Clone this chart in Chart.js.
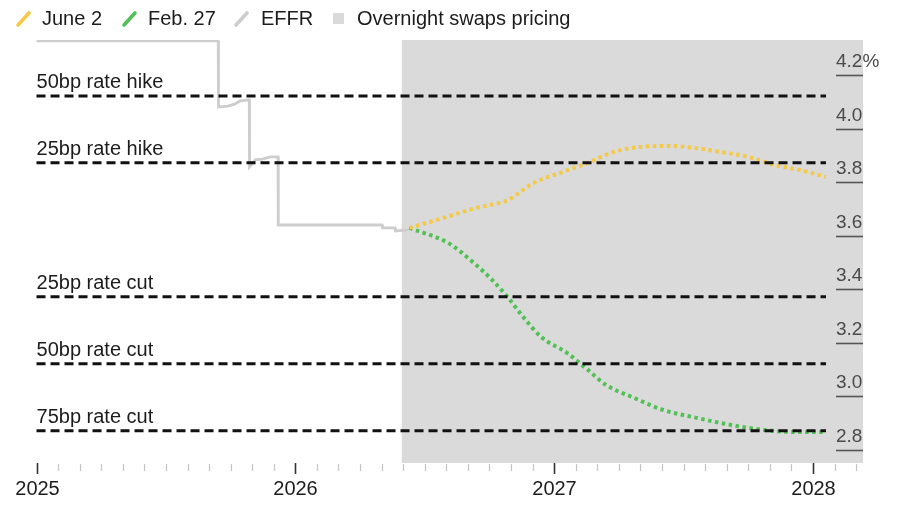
<!DOCTYPE html>
<html>
<head>
<meta charset="utf-8">
<script src="https://cdn.jsdelivr.net/npm/chart.js@4/dist/chart.umd.min.js"></script>
<style>
  html, body { margin: 0; padding: 0; background: #ffffff; }
  #wrap { width: 900px; height: 510px; position: relative; }
</style>
</head>
<body>
<div id="wrap"><canvas id="c" width="900" height="510"></canvas></div>
<script>
// ---------- DATA ----------
const effrDates  = [2025.0, 2025.702, 2025.703, 2025.74, 2025.767, 2025.787, 2025.818, 2025.822, 2025.823, 2025.845, 2025.872, 2025.903, 2025.933, 2025.934, 2026.335, 2026.337, 2026.385, 2026.387, 2026.436];
const effrValues = [4.327, 4.327, 4.081, 4.084, 4.092, 4.103, 4.107, 4.107, 3.857, 3.883, 3.886, 3.894, 3.894, 3.640, 3.640, 3.629, 3.629, 3.618, 3.622];

const june2Dates  = [2026.44, 2026.57, 2026.70, 2026.82, 2026.92, 2027.02, 2027.13, 2027.23, 2027.33, 2027.44, 2027.54, 2027.64, 2027.75, 2027.85, 2027.95, 2028.05];
const june2Values = [3.629, 3.666, 3.704, 3.733, 3.797, 3.834, 3.872, 3.913, 3.931, 3.935, 3.928, 3.913, 3.894, 3.864, 3.845, 3.819];

const feb27Dates  = [2026.44, 2026.59, 2026.69, 2026.76, 2026.82, 2026.88, 2026.95, 2027.05, 2027.13, 2027.20, 2027.31, 2027.42, 2027.55, 2027.68, 2027.81, 2027.94, 2028.05];
const feb27Values = [3.629, 3.573, 3.498, 3.435, 3.371, 3.297, 3.222, 3.162, 3.099, 3.043, 2.994, 2.950, 2.920, 2.894, 2.875, 2.867, 2.867];

const refLabels = ['50bp rate hike', '25bp rate hike', '25bp rate cut', '50bp rate cut', '75bp rate cut'];
const refValues = [4.122, 3.872, 3.372, 3.122, 2.872];
const refRange  = [2025.0, 2028.05];

const forecastStart = 2026.411;

const yTickValues = [4.2, 4.0, 3.8, 3.6, 3.4, 3.2, 3.0, 2.8];
const yTickLabels = ['4.2%', '4.0', '3.8', '3.6', '3.4', '3.2', '3.0', '2.8'];
const xTickValues = [2025, 2026, 2027, 2028];
const xTickLabels = ['2025', '2026', '2027', '2028'];

const legendLabels = ['June 2', 'Feb. 27', 'EFFR', 'Overnight swaps pricing'];

// ---------- STYLE ----------
const COL_JUNE = '#f4c945';
const COL_FEB  = '#52c155';
const COL_EFFR = '#cdcdcd';
const COL_SHADE = '#dadada';
const FONT = '"Liberation Sans", Arial, Helvetica, sans-serif';

const zip = (xs, ys) => xs.map((x, i) => ({ x: x, y: ys[i] }));

const datasets = [];
refValues.forEach((v) => {
  datasets.push({
    label: 'ref',
    data: zip(refRange, [v, v]),
    borderColor: '#111111',
    borderWidth: 3,
    borderDash: [9, 5],
    pointRadius: 0,
    order: 0
  });
});
datasets.push({
  label: 'EFFR',
  data: zip(effrDates, effrValues),
  borderColor: COL_EFFR,
  borderWidth: 2.8,
  pointRadius: 0,
  tension: 0,
  order: 3
});
datasets.push({
  label: 'Feb. 27',
  data: zip(feb27Dates, feb27Values),
  borderColor: COL_FEB,
  borderWidth: 4,
  borderDash: [3.5, 3.5],
  pointRadius: 0,
  cubicInterpolationMode: 'monotone',
  order: 2
});
datasets.push({
  label: 'June 2',
  data: zip(june2Dates, june2Values),
  borderColor: COL_JUNE,
  borderWidth: 4,
  borderDash: [3.5, 3.5],
  pointRadius: 0,
  cubicInterpolationMode: 'monotone',
  order: 1
});

const decor = {
  id: 'decor',
  beforeDatasetsDraw(chart) {
    const { ctx, chartArea: a, scales: { x } } = chart;
    const x0 = x.getPixelForValue(forecastStart);
    ctx.save();
    ctx.fillStyle = COL_SHADE;
    ctx.fillRect(x0, a.top, a.right - x0, a.bottom - a.top);
    ctx.restore();
  },
  afterDraw(chart) {
    const { ctx, chartArea: a, scales: { x, y } } = chart;
    ctx.save();

    // reference line labels
    ctx.font = '20px ' + FONT;
    ctx.fillStyle = '#1c1c1c';
    ctx.textAlign = 'left';
    ctx.textBaseline = 'alphabetic';
    refValues.forEach((v, i) => {
      ctx.fillText(refLabels[i], x.getPixelForValue(refRange[0]), y.getPixelForValue(v) - 8);
    });

    // y axis ticks (inside, right)
    ctx.font = '19px ' + FONT;
    ctx.fillStyle = '#4a4a4a';
    ctx.strokeStyle = '#555555';
    ctx.lineWidth = 1.6;
    yTickValues.forEach((v, i) => {
      const py = Math.round(y.getPixelForValue(v)) + 0.5;
      ctx.beginPath();
      ctx.moveTo(836, py);
      ctx.lineTo(a.right, py);
      ctx.stroke();
      ctx.fillText(yTickLabels[i], 836, py - 9);
    });

    // x axis minor ticks (monthly)
    ctx.strokeStyle = '#c4c4c4';
    ctx.lineWidth = 1.2;
    for (let m = 0; m <= 38; m++) {
      const t = 2025 + m / 12;
      if (m % 12 === 0) continue;
      const px = Math.round(x.getPixelForValue(t)) + 0.5;
      ctx.beginPath();
      ctx.moveTo(px, a.bottom + 1);
      ctx.lineTo(px, a.bottom + 8);
      ctx.stroke();
    }
    // major ticks + labels
    ctx.strokeStyle = '#333333';
    ctx.lineWidth = 1.6;
    ctx.font = '20px ' + FONT;
    ctx.fillStyle = '#1c1c1c';
    ctx.textAlign = 'center';
    xTickValues.forEach((t, i) => {
      const px = Math.round(x.getPixelForValue(t)) + 0.5;
      ctx.beginPath();
      ctx.moveTo(px, a.bottom);
      ctx.lineTo(px, a.bottom + 11);
      ctx.stroke();
      ctx.fillText(xTickLabels[i], px, 495);
    });

    // legend
    ctx.textAlign = 'left';
    ctx.font = '20px ' + FONT;
    ctx.lineCap = 'round';
    ctx.lineWidth = 3.6;
    const slash = (x0, col) => {
      ctx.strokeStyle = col;
      ctx.beginPath();
      ctx.moveTo(x0, 25);
      ctx.lineTo(x0 + 11, 13);
      ctx.stroke();
    };
    slash(18, COL_JUNE);
    slash(124, COL_FEB);
    slash(236, COL_EFFR);
    ctx.fillStyle = COL_SHADE;
    ctx.fillRect(333, 13, 11, 11);
    ctx.fillStyle = '#1c1c1c';
    ctx.fillText(legendLabels[0], 42, 25);
    ctx.fillText(legendLabels[1], 148, 25);
    ctx.fillText(legendLabels[2], 261, 25);
    ctx.fillText(legendLabels[3], 357, 25);

    ctx.restore();
  }
};

new Chart(document.getElementById('c'), {
  type: 'line',
  data: { datasets: datasets },
  options: {
    responsive: false,
    animation: false,
    events: [],
    layout: { padding: { left: 36, right: 37, top: 40, bottom: 47 } },
    plugins: { legend: { display: false }, tooltip: { enabled: false } },
    scales: {
      x: { type: 'linear', min: 2024.998, max: 2028.193, display: false },
      y: { type: 'linear', min: 2.7515, max: 4.3306, display: false }
    }
  },
  plugins: [decor]
});
</script>
</body>
</html>
